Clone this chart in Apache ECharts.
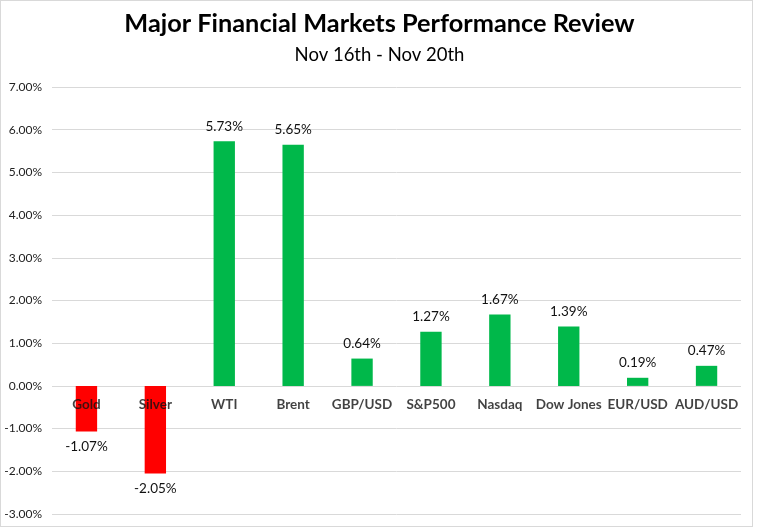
<!DOCTYPE html>
<html>
<head>
<meta charset="utf-8">
<script src="https://cdn.jsdelivr.net/npm/echarts@6/dist/echarts.min.js"></script>
<style>
  html, body { margin: 0; padding: 0; background: #fff; }
  #wrap { position: absolute; left: 0; top: 0; width: 753px; height: 527px; border: 1px solid #d9d9d9; box-sizing: border-box; }
  #chart { width: 759px; height: 531px; }
</style>
</head>
<body>
<div id="wrap"></div>
<div id="chart"></div>
<script>
// 市场名称
var markets = ["Gold", "Silver", "WTI", "Brent", "GBP/USD", "S&P500", "Nasdaq", "Dow Jones", "EUR/USD", "AUD/USD"];
// 周涨跌幅 (%)
var changes = [-1.07, -2.05, 5.73, 5.65, 0.64, 1.27, 1.67, 1.39, 0.19, 0.47];
var titleText = "Major Financial Markets Performance Review";
var subText = "Nov 16th - Nov 20th";

var myChart = echarts.init(document.getElementById("chart"));

var option = {
  backgroundColor: "transparent",
  animation: false,
  title: {
    text: titleText,
    subtext: subText,
    left: "center",
    top: 6,
    itemGap: 10,
    textStyle: { fontFamily: "Lato", fontWeight: "bold", fontSize: 25.3, color: "#000" },
    subtextStyle: { fontFamily: "Lato", fontSize: 18.5, color: "#000" }
  },
  grid: { left: 52, right: 18, top: 87, bottom: 17, containLabel: false, outerBoundsMode: "none" },
  xAxis: {
    type: "category",
    data: markets,
    axisLine: { show: false },
    axisTick: { show: false },
    axisLabel: { show: false }
  },
  yAxis: {
    type: "value",
    min: -3, max: 7, interval: 1,
    axisLine: { show: false },
    axisTick: { show: false },
    splitLine: { lineStyle: { color: "#d9d9d9" } },
    axisLabel: {
      fontFamily: "Lato", fontSize: 12, color: "#222", margin: 10,
      formatter: function (v) { return v.toFixed(2) + "%"; }
    }
  },
  series: [{
    type: "bar",
    barWidth: "31%",
    data: changes.map(function (v) {
      return { value: v, itemStyle: { color: v < 0 ? "#ff0000" : "#00b84a" } };
    }),
    label: {
      show: true,
      position: "outside",
      distance: 8,
      fontFamily: "Lato", fontSize: 13.5, color: "#111",
      formatter: function (p) { return p.value.toFixed(2) + "%"; }
    }
  }, {
    // 类目名称贴在零线下方
    type: "scatter",
    symbolSize: 0,
    z: 5,
    silent: true,
    data: markets.map(function () { return 0; }),
    label: {
      show: true,
      position: "bottom",
      distance: 12,
      fontFamily: "Lato", fontWeight: "bold", fontSize: 13.5, color: "#111",
      formatter: function (p) { return p.name; }
    }
  }]
};

myChart.setOption(option);
</script>
</body>
</html>
